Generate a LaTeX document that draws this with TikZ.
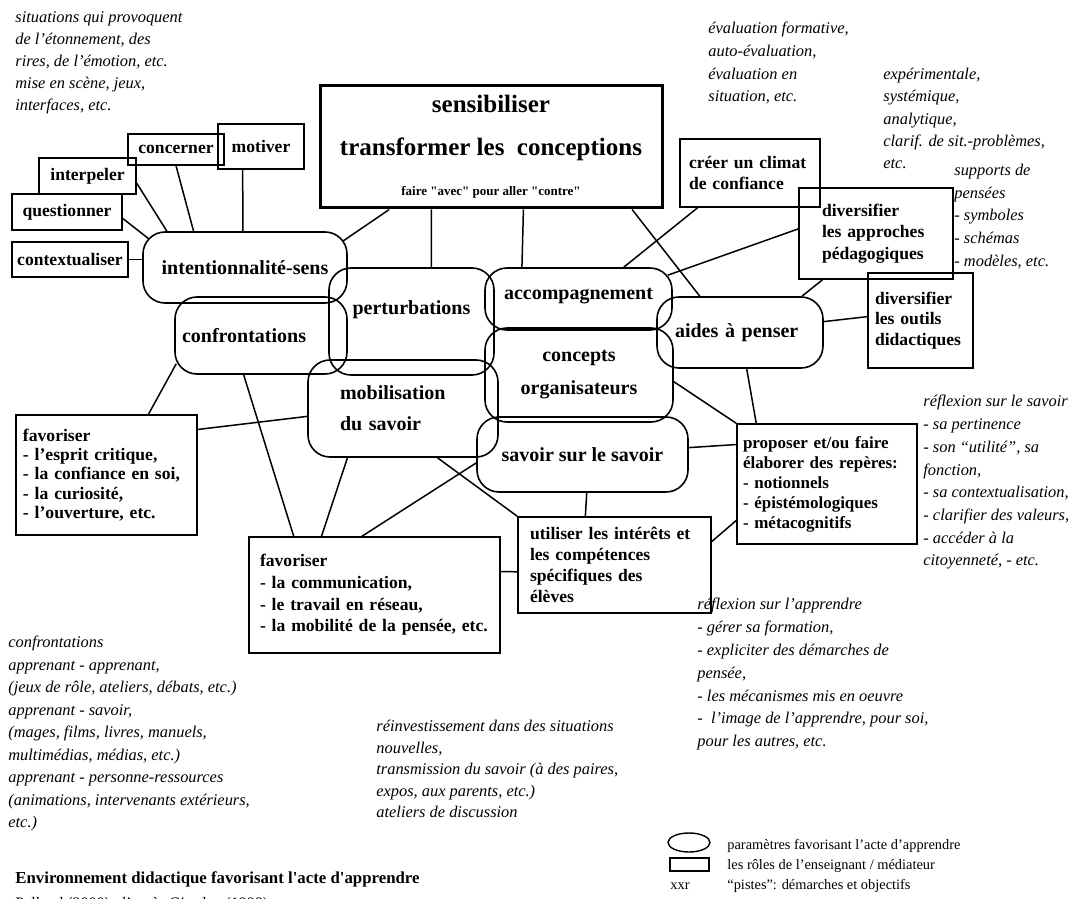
\documentclass[tikz,border=0pt]{standalone}
\usepackage{fontspec}
\setmainfont{Liberation Serif}
\usetikzlibrary{calc,shapes.geometric}

\newcommand{\pistefont}[1]{\itshape\fontsize{8.2}{#1}\selectfont}
\tikzset{
  param/.style={draw, line width=0.8pt, rounded corners=11pt, inner sep=0pt, align=center,
    font=\bfseries\fontsize{10}{15.5}\selectfont},
  role/.style={draw, line width=0.7pt, inner sep=0pt, align=left,
    font=\bfseries\fontsize{8.8}{10.2}\selectfont},
  piste/.style={anchor=north west, inner sep=0pt, align=left},
  legende/.style={anchor=base west, inner sep=0pt, font=\fontsize{7.2}{9}\selectfont},
  lien/.style={line width=0.75pt},
}

\begin{document}
\begin{tikzpicture}[x=0.5pt, y=-0.5pt]
  \useasboundingbox (0,0) rectangle (1072,899);

  % centre
  \node[role, align=center, line width=1.5pt, minimum width=171pt, minimum height=61pt,
    font=\bfseries\fontsize{12.5}{15}\selectfont] (sens) at (491,147)
    {sensibiliser\\[6.5pt] transformer les\ \ conceptions\\[5pt]
     {\fontsize{6.5}{8}\selectfont faire \textquotedbl avec\textquotedbl\ pour aller \textquotedbl contre\textquotedbl}};

  % parametres
  \node[param, minimum width=102pt, minimum height=35.5pt] (inten) at (245,267.5) {intentionnalité-sens};
  \node[param, minimum width=82.5pt, minimum height=53.5pt, text depth=14pt] (pertu) at (411.5,321.5) {perturbations};
  \node[param, minimum width=86pt, minimum height=38.5pt, text width=79pt, align=left] (confr) at (261,335.5) {confrontations};
  \node[param, minimum width=95pt, minimum height=48.5pt, text width=63pt, align=left] (mobil) at (403,408.5) {mobilisation\\du savoir};
  \node[param, minimum width=93.5pt, minimum height=31pt, text depth=5pt] (accomp) at (578.5,299) {accompagnement};
  \node[param, minimum width=94pt, minimum height=47pt, font=\bfseries\fontsize{10}{16.5}\selectfont] (concp) at (579,375) {concepts\\organisateurs};
  \node[param, minimum width=105.5pt, minimum height=37.5pt] (savsur) at (582.5,454.5) {savoir sur le savoir};
  \node[param, minimum width=83pt, minimum height=35.5pt, text width=65pt, align=left] (aides) at (740,332.5) {aides à penser};

  % roles
  \node[role, minimum width=43pt, minimum height=22.5pt] (motiv) at (261,146.5) {motiver};
  \node[role, minimum width=48pt, minimum height=15.5pt] (concer) at (176,149.5) {concerner};
  \node[role, minimum width=48.5pt, minimum height=18pt] (interp) at (87.5,176) {interpeler};
  \node[role, minimum width=55pt, minimum height=18pt] (quest) at (67,212) {questionner};
  \node[role, minimum width=58pt, minimum height=17.5pt] (contx) at (70,259.5) {contextualiser};
  \node[role, minimum width=70pt, minimum height=34pt, text width=61pt] (climat) at (750,173) {créer un climat\\de confiance};
  \node[role, minimum width=77pt, minimum height=45.5pt, text width=54pt,
    font=\bfseries\fontsize{8.8}{10.75}\selectfont] (approch) at (876,233.5) {diversifier\\les approches\\pédagogiques};
  \node[role, minimum width=52.5pt, minimum height=47.5pt, text width=45.5pt] (outils) at (920.5,320.5) {diversifier\\les outils\\didactiques};
  \node[role, minimum width=90pt, minimum height=60pt, text width=84pt,
    font=\bfseries\fontsize{8.5}{10}\selectfont] (reperes) at (827,484)
    {proposer et/ou faire\\élaborer\ des repères:\\- notionnels\\- épistémologiques\\- métacognitifs};
  \node[role, minimum width=96.5pt, minimum height=48pt, text width=84.5pt,
    font=\bfseries\fontsize{8.8}{10.5}\selectfont] (interets) at (614.5,565)
    {utiliser les intérêts et\\les compétences\\spécifiques des\\élèves};
  \node[role, minimum width=125.5pt, minimum height=58pt, text width=114.5pt,
    font=\bfseries\fontsize{8.8}{10.8}\selectfont] (favcom) at (374.5,595)
    {favoriser\\- la communication,\\- le travail en réseau,\\- la mobilité de la pensée, etc.};
  \node[role, minimum width=90.5pt, minimum height=60pt, text width=83.5pt,
    font=\bfseries\fontsize{8.8}{9.7}\selectfont] (favesp) at (106.5,475)
    {favoriser\\- l’esprit critique,\\- la confiance en soi,\\- la curiosité,\\- l’ouverture, etc.};

  % pistes
  \node[piste, font=\pistefont{11}] (etonne) at (15,11)
    {situations qui provoquent\\de l’étonnement, des\\rires, de l’émotion, etc.\\mise en scène, jeux,\\interfaces, etc.};
  \node[piste, font=\pistefont{11.3}] (evalu) at (708,22)
    {évaluation formative,\\auto-évaluation,\\évaluation en\\situation, etc.};
  \node[piste, font=\pistefont{11.1}] (approc) at (883,68)
    {expérimentale,\\systémique,\\analytique,\\clarif. de sit.-problèmes,\\etc.};
  \node[piste, font=\pistefont{11.3}] (support) at (954,164)
    {supports de\\pensées\\- symboles\\- schémas\\- modèles, etc.};
  \node[piste, font=\pistefont{11.35}] (refsav) at (923,395)
    {réflexion sur le savoir\\- sa pertinence\\- son “utilité”, sa\\fonction,\\- sa contextualisation,\\- clarifier des valeurs,\\- accéder à la\\citoyenneté, - etc.};
  \node[piste, font=\pistefont{11.4}] (refapp) at (697,598)
    {réflexion sur l’apprendre\\- gérer sa formation,\\- expliciter des démarches de\\pensée,\\- les mécanismes mis en oeuvre\\-\ \ l’image de l’apprendre, pour soi,\\pour les autres, etc.};
  \node[piste, font=\pistefont{10.75}] (reinv) at (376,720)
    {réinvestissement dans des situations\\nouvelles,\\transmission du savoir (à des paires,\\expos, aux parents, etc.)\\ateliers de discussion};
  \node[piste, font=\pistefont{11.25}] (confex) at (8,636)
    {confrontations\\apprenant - apprenant,\\(jeux de rôle, ateliers, débats, etc.)\\apprenant - savoir,\\(mages, films, livres, manuels,\\multimédias, médias, etc.)\\apprenant - personne-ressources\\(animations, intervenants extérieurs,\\etc.)};

  % liens
  \draw[lien] ($(motiv.south west)!.29!(motiv.south east)$) -- ($(inten.north west)!.49!(inten.north east)$);
  \draw[lien] (concer.south) -- ($(inten.north west)!.25!(inten.north east)$);
  \draw[lien] ($(interp.north east)!.69!(interp.south east)$) -- ($(inten.north west)!.12!(inten.north east)$);
  \draw[lien] ($(quest.north east)!.67!(quest.south east)$) -- ($(inten.north west)+(7,8)$);
  \draw[lien] (contx.east) -- (contx.east -| inten.west);
  \draw[lien] ($(sens.south west)!.205!(sens.south east)$) -- ($(inten.north east)+(-5,10)$);
  \draw[lien] ($(sens.south west)!.327!(sens.south east)$) -- ($(pertu.north west)!.62!(pertu.north east)$);
  \draw[lien] ($(sens.south west)!.594!(sens.south east)$) -- ($(accomp.north west)!.2!(accomp.north east)$);
  \draw[lien] ($(sens.south west)!.909!(sens.south east)$) -- ($(aides.north west)!.26!(aides.north east)$);
  \draw[lien] ($(climat.south west)!.13!(climat.south east)$) -- ($(accomp.north west)!.74!(accomp.north east)$);
  \draw[lien] ($(approch.north west)!.45!(approch.south west)$) -- ($(accomp.north east)+(-5,8)$);
  \draw[lien] ($(approch.south west)!.156!(approch.south east)$) -- ($(aides.north west)!.87!(aides.north east)$);
  \draw[lien] ($(aides.north east)!.35!(aides.south east)$) -- ($(outils.north west)!.46!(outils.south west)$);
  \draw[lien] ($(aides.south west)!.54!(aides.south east)$) -- ($(reperes.north west)!.11!(reperes.north east)$);
  \draw[lien] ($(concp.north east)!.57!(concp.south east)$) -- (reperes.north west);
  \draw[lien] ($(savsur.north east)!.41!(savsur.south east)$) -- ($(reperes.north west)!.175!(reperes.south west)$);
  \draw[lien] ($(interets.north east)!.26!(interets.south east)$) -- ($(reperes.north west)!.8!(reperes.south west)$);
  \draw[lien] ($(savsur.south west)!.52!(savsur.south east)$) -- ($(interets.north west)!.35!(interets.north east)$);
  \draw[lien] ($(mobil.south west)!.68!(mobil.south east)$) -- (interets.north west);
  \draw[lien] ($(savsur.north west)!.61!(savsur.south west)$) -- ($(favcom.north west)!.45!(favcom.north east)$);
  \draw[lien] ($(mobil.south west)!.21!(mobil.south east)$) -- ($(favcom.north west)!.29!(favcom.north east)$);
  \draw[lien] ($(confr.south west)!.4!(confr.south east)$) -- ($(favcom.north west)!.18!(favcom.north east)$);
  \draw[lien] ($(confr.south west)+(2,-11)$) -- ($(favesp.north west)!.73!(favesp.north east)$);
  \draw[lien] ($(mobil.north west)!.58!(mobil.south west)$) -- ($(favesp.north east)!.125!(favesp.south east)$);
  \draw[lien] ($(favcom.north east)!.3!(favcom.south east)$) -- ($(interets.north west)!.57!(interets.south west)$);

  % legende
  \node[draw, ellipse, line width=0.7pt, minimum width=21pt, minimum height=9.5pt, inner sep=0pt] (legparam) at (689,842.5) {};
  \node[draw, line width=0.7pt, minimum width=19.5pt, minimum height=6.5pt, inner sep=0pt] (legrole) at (689.5,864.5) {};
  \node[legende] (legpiste) at (670,889) {xxr};
  \node[legende] (legtxt1) at (727,849) {paramètres favorisant l’acte d’apprendre};
  \node[legende] (legtxt2) at (727,869) {les rôles de l’enseignant / médiateur};
  \node[legende] (legtxt3) at (727,889) {“pistes”: démarches et objectifs};

  \node[anchor=base west, inner sep=0pt, font=\bfseries\fontsize{8.4}{10}\selectfont] (titre) at (15,883)
    {Environnement didactique favorisant l\textquotesingle acte d\textquotesingle apprendre};
  \node[anchor=base west, inner sep=0pt, font=\fontsize{8}{10}\selectfont] (source) at (15,908)
    {Pellaud (2000), d’après Giordan (1998)};
\end{tikzpicture}
\end{document}
